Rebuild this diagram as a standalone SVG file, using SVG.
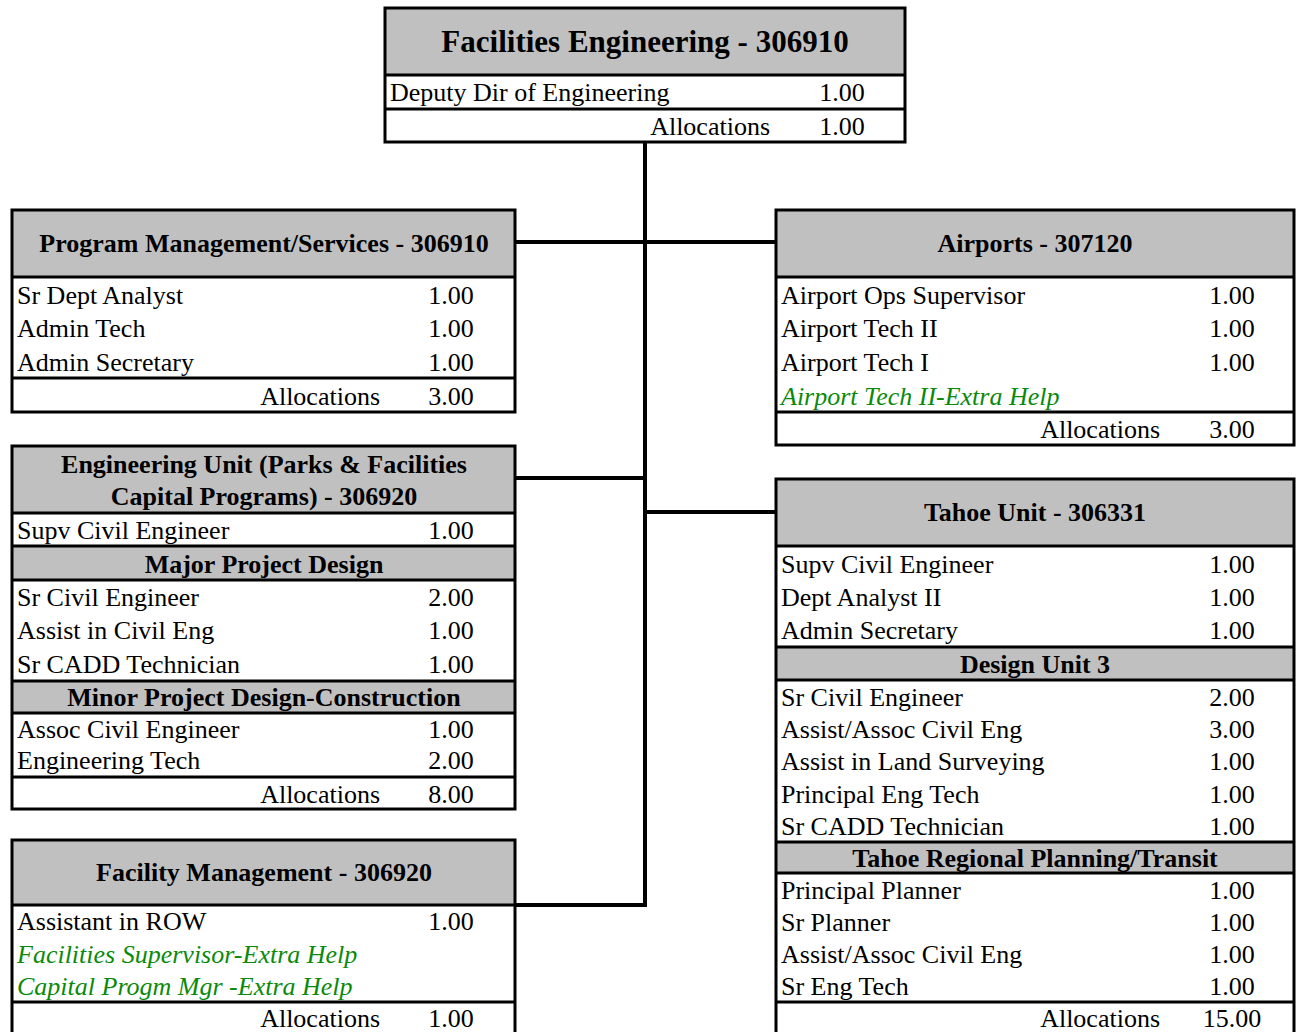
<svg xmlns="http://www.w3.org/2000/svg" width="1296" height="1032" viewBox="0 0 1296 1032">
<style>
text{font-family:"Liberation Serif","Times New Roman",serif;font-size:26px;fill:#000}
.h{font-weight:bold;text-anchor:middle}
.t{font-size:31px}
.n{text-anchor:middle}
.a{text-anchor:end}
.g{fill:#0a8a0a;font-style:italic}
.hd{fill:#c0c0c0}
.box{fill:none;stroke:#000;stroke-width:3}
.ln{stroke:#000;stroke-width:3}
.cn{stroke:#000;stroke-width:4;fill:none}
</style>
<rect width="1296" height="1032" fill="#fff"/>
<g id="connectors">
<line class="cn" x1="645" y1="142" x2="645" y2="907"/>
<line class="cn" x1="515" y1="242" x2="776" y2="242"/>
<line class="cn" x1="515" y1="478" x2="645" y2="478"/>
<line class="cn" x1="645" y1="512" x2="776" y2="512"/>
<line class="cn" x1="515" y1="905" x2="645" y2="905"/>
</g>
<g id="facilities-engineering">
<rect class="hd" x="385" y="8" width="520" height="67"/>
<rect class="box" x="385" y="8" width="520" height="134"/>
<line class="ln" x1="385" y1="75" x2="905" y2="75"/>
<line class="ln" x1="385" y1="109" x2="905" y2="109"/>
<text class="h t" x="645" y="52">Facilities Engineering - 306910</text>
<text x="390" y="101">Deputy Dir of Engineering</text><text class="n" x="842" y="101">1.00</text>
<text class="a" x="770" y="135">Allocations</text><text class="n" x="842" y="135">1.00</text>
</g>
<g id="program-management">
<rect class="hd" x="12" y="210" width="503" height="67"/>
<rect class="box" x="12" y="210" width="503" height="202"/>
<line class="ln" x1="12" y1="277" x2="515" y2="277"/>
<line class="ln" x1="12" y1="378" x2="515" y2="378"/>
<text class="h" x="264" y="252">Program Management/Services - 306910</text>
<text x="17" y="304">Sr Dept Analyst</text><text class="n" x="451" y="304">1.00</text>
<text x="17" y="337">Admin Tech</text><text class="n" x="451" y="337">1.00</text>
<text x="17" y="371">Admin Secretary</text><text class="n" x="451" y="371">1.00</text>
<text class="a" x="380" y="405">Allocations</text><text class="n" x="451" y="405">3.00</text>
</g>
<g id="engineering-unit">
<rect class="hd" x="12" y="446" width="503" height="67"/>
<rect class="hd" x="12" y="546" width="503" height="34"/>
<rect class="hd" x="12" y="681" width="503" height="32"/>
<rect class="box" x="12" y="446" width="503" height="363"/>
<line class="ln" x1="12" y1="513" x2="515" y2="513"/>
<line class="ln" x1="12" y1="546" x2="515" y2="546"/>
<line class="ln" x1="12" y1="580" x2="515" y2="580"/>
<line class="ln" x1="12" y1="681" x2="515" y2="681"/>
<line class="ln" x1="12" y1="713" x2="515" y2="713"/>
<line class="ln" x1="12" y1="777" x2="515" y2="777"/>
<text class="h" x="264" y="473">Engineering Unit (Parks &amp; Facilities</text>
<text class="h" x="264" y="505">Capital Programs) - 306920</text>
<text x="17" y="539">Supv Civil Engineer</text><text class="n" x="451" y="539">1.00</text>
<text class="h" x="264" y="573">Major Project Design</text>
<text x="17" y="606">Sr Civil Engineer</text><text class="n" x="451" y="606">2.00</text>
<text x="17" y="639">Assist in Civil Eng</text><text class="n" x="451" y="639">1.00</text>
<text x="17" y="673">Sr CADD Technician</text><text class="n" x="451" y="673">1.00</text>
<text class="h" x="264" y="706">Minor Project Design-Construction</text>
<text x="17" y="738">Assoc Civil Engineer</text><text class="n" x="451" y="738">1.00</text>
<text x="17" y="769">Engineering Tech</text><text class="n" x="451" y="769">2.00</text>
<text class="a" x="380" y="803">Allocations</text><text class="n" x="451" y="803">8.00</text>
</g>
<g id="facility-management">
<rect class="hd" x="12" y="840" width="503" height="65"/>
<rect class="box" x="12" y="840" width="503" height="200"/>
<line class="ln" x1="12" y1="905" x2="515" y2="905"/>
<line class="ln" x1="12" y1="1002" x2="515" y2="1002"/>
<text class="h" x="264" y="881">Facility Management - 306920</text>
<text x="17" y="930">Assistant in ROW</text><text class="n" x="451" y="930">1.00</text>
<text class="g" x="17" y="963">Facilities Supervisor-Extra Help</text>
<text class="g" x="17" y="995">Capital Progm Mgr -Extra Help</text>
<text class="a" x="380" y="1027">Allocations</text><text class="n" x="451" y="1027">1.00</text>
</g>
<g id="airports">
<rect class="hd" x="776" y="210" width="518" height="67"/>
<rect class="box" x="776" y="210" width="518" height="235"/>
<line class="ln" x1="776" y1="277" x2="1294" y2="277"/>
<line class="ln" x1="776" y1="412" x2="1294" y2="412"/>
<text class="h" x="1035" y="252">Airports - 307120</text>
<text x="781" y="304">Airport Ops Supervisor</text><text class="n" x="1232" y="304">1.00</text>
<text x="781" y="337">Airport Tech II</text><text class="n" x="1232" y="337">1.00</text>
<text x="781" y="371">Airport Tech I</text><text class="n" x="1232" y="371">1.00</text>
<text class="g" x="781" y="405">Airport Tech II-Extra Help</text>
<text class="a" x="1160" y="438">Allocations</text><text class="n" x="1232" y="438">3.00</text>
</g>
<g id="tahoe-unit">
<rect class="hd" x="776" y="479" width="518" height="67"/>
<rect class="hd" x="776" y="647" width="518" height="33"/>
<rect class="hd" x="776" y="842" width="518" height="31"/>
<rect class="box" x="776" y="479" width="518" height="561"/>
<line class="ln" x1="776" y1="546" x2="1294" y2="546"/>
<line class="ln" x1="776" y1="647" x2="1294" y2="647"/>
<line class="ln" x1="776" y1="680" x2="1294" y2="680"/>
<line class="ln" x1="776" y1="842" x2="1294" y2="842"/>
<line class="ln" x1="776" y1="873" x2="1294" y2="873"/>
<line class="ln" x1="776" y1="1002" x2="1294" y2="1002"/>
<text class="h" x="1035" y="521">Tahoe Unit - 306331</text>
<text x="781" y="573">Supv Civil Engineer</text><text class="n" x="1232" y="573">1.00</text>
<text x="781" y="606">Dept Analyst II</text><text class="n" x="1232" y="606">1.00</text>
<text x="781" y="639">Admin Secretary</text><text class="n" x="1232" y="639">1.00</text>
<text class="h" x="1035" y="673">Design Unit 3</text>
<text x="781" y="706">Sr Civil Engineer</text><text class="n" x="1232" y="706">2.00</text>
<text x="781" y="738">Assist/Assoc Civil Eng</text><text class="n" x="1232" y="738">3.00</text>
<text x="781" y="770">Assist in Land Surveying</text><text class="n" x="1232" y="770">1.00</text>
<text x="781" y="803">Principal Eng Tech</text><text class="n" x="1232" y="803">1.00</text>
<text x="781" y="835">Sr CADD Technician</text><text class="n" x="1232" y="835">1.00</text>
<text class="h" x="1035" y="867">Tahoe Regional Planning/Transit</text>
<text x="781" y="899">Principal Planner</text><text class="n" x="1232" y="899">1.00</text>
<text x="781" y="931">Sr Planner</text><text class="n" x="1232" y="931">1.00</text>
<text x="781" y="963">Assist/Assoc Civil Eng</text><text class="n" x="1232" y="963">1.00</text>
<text x="781" y="995">Sr Eng Tech</text><text class="n" x="1232" y="995">1.00</text>
<text class="a" x="1160" y="1027">Allocations</text><text class="n" x="1232" y="1027">15.00</text>
</g>
</svg>
